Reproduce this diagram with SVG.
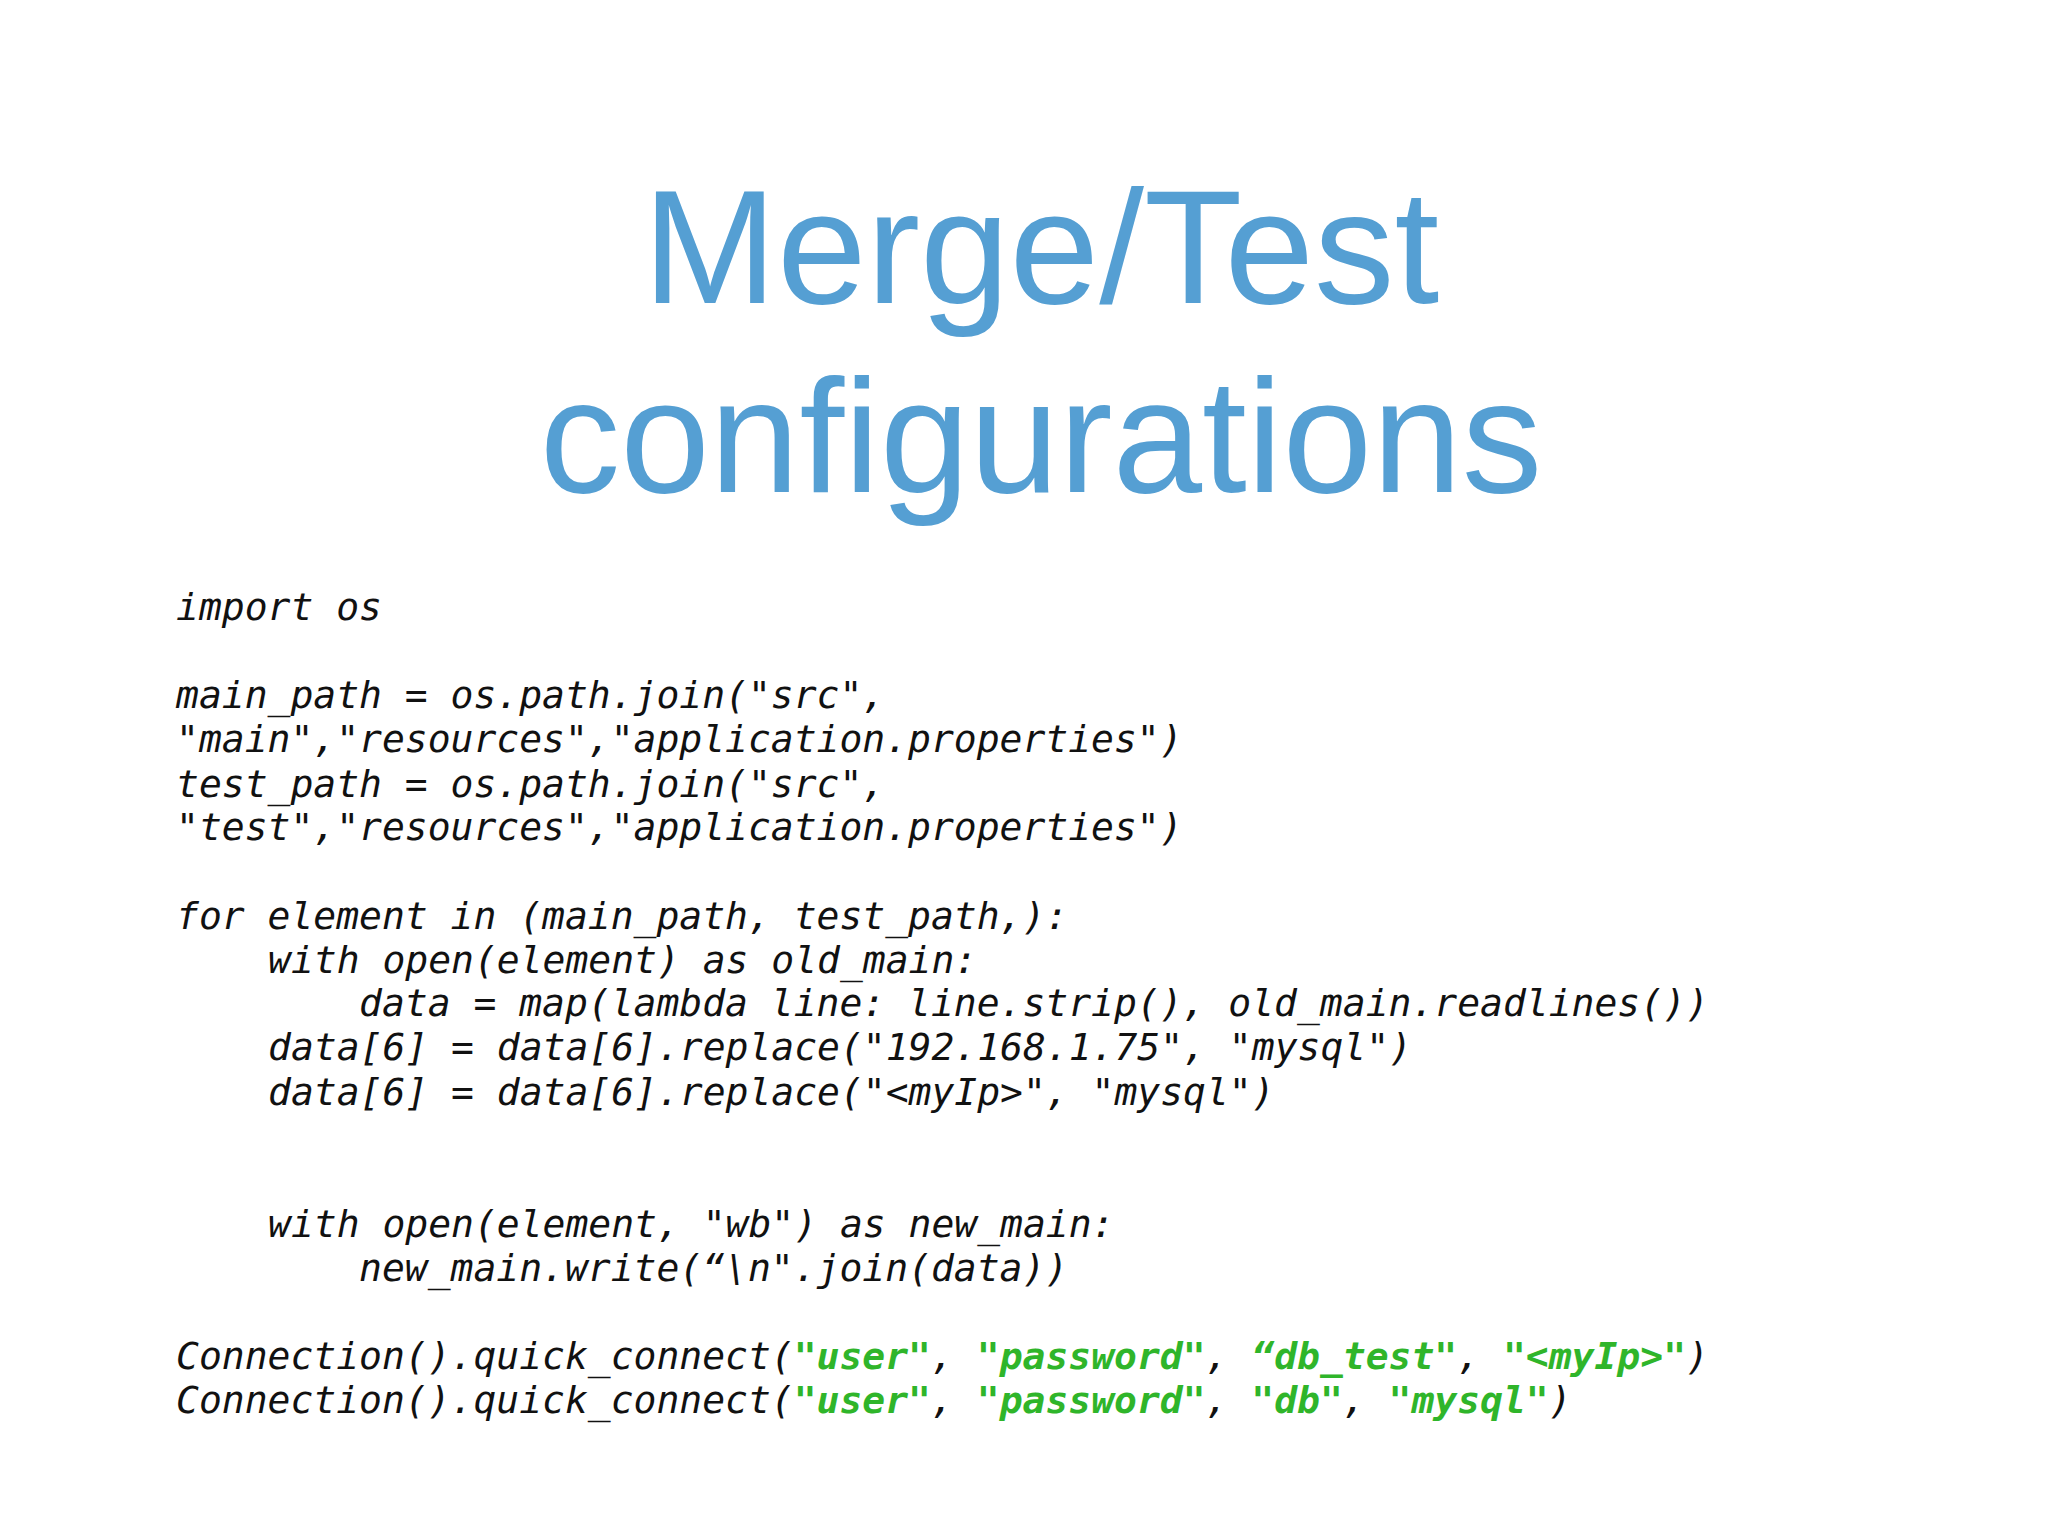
<svg xmlns="http://www.w3.org/2000/svg" width="2048" height="1536" viewBox="0 0 2048 1536">
<style>
.t{font-family:"Liberation Sans",Arial,sans-serif;font-size:161px;fill:#559fd3;text-anchor:middle;font-weight:300}
.c{font-family:"DejaVu Sans Mono",monospace;font-style:italic;font-size:38px;fill:#111;white-space:pre}
.g{fill:#2fb52a;font-weight:bold}
</style>
<rect width="2048" height="1536" fill="#fff"/>
<g id="title">
<text class="t" x="1041" y="303">Merge/Test</text>
<text class="t" x="1041" y="492">configurations</text>
</g>
<g id="code">
<text class="c" x="176" y="620">import os</text>
<text class="c" x="176" y="708">main_path = os.path.join("src",</text>
<text class="c" x="176" y="752">"main","resources","application.properties")</text>
<text class="c" x="176" y="797">test_path = os.path.join("src",</text>
<text class="c" x="176" y="840">"test","resources","application.properties")</text>
<text class="c" x="176" y="929">for element in (main_path, test_path,):</text>
<text class="c" x="268" y="973">with open(element) as old_main:</text>
<text class="c" x="359" y="1016">data = map(lambda line: line.strip(), old_main.readlines())</text>
<text class="c" x="268" y="1060">data[6] = data[6].replace("192.168.1.75", "mysql")</text>
<text class="c" x="268" y="1105">data[6] = data[6].replace("&lt;myIp&gt;", "mysql")</text>
<text class="c" x="268" y="1237">with open(element, "wb") as new_main:</text>
<text class="c" x="359" y="1281">new_main.write(“\n".join(data))</text>
<text class="c" x="176" y="1369">Connection().quick_connect(<tspan class="g">"user"</tspan>, <tspan class="g">"password"</tspan>, <tspan class="g">“db_test"</tspan>, <tspan class="g">"&lt;myIp&gt;"</tspan>)</text>
<text class="c" x="176" y="1413">Connection().quick_connect(<tspan class="g">"user"</tspan>, <tspan class="g">"password"</tspan>, <tspan class="g">"db"</tspan>, <tspan class="g">"mysql"</tspan>)</text>
</g>
</svg>
